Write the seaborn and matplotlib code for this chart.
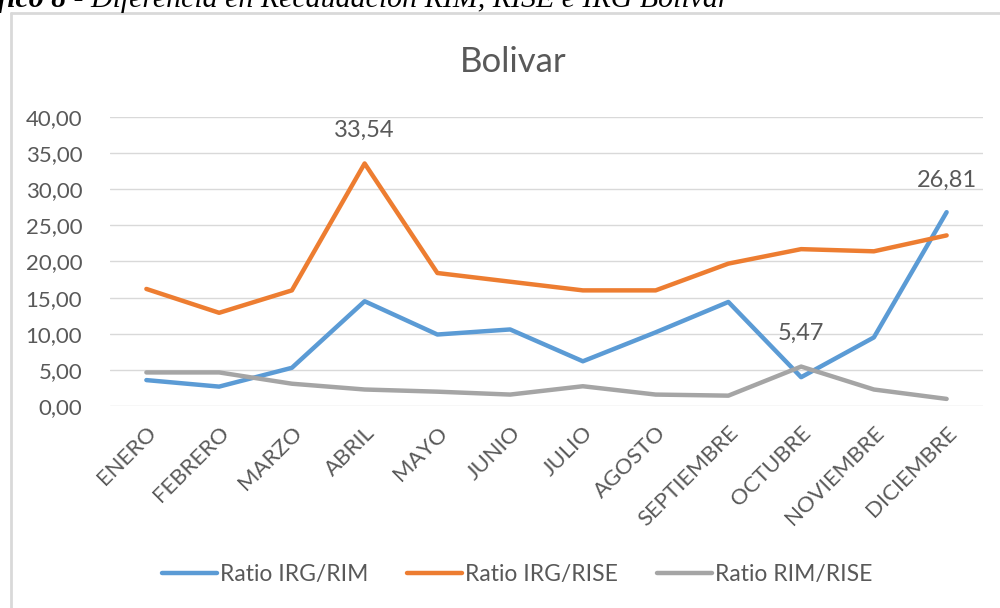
import matplotlib
matplotlib.use("Agg")
import matplotlib.pyplot as plt
import seaborn as sns
import pandas as pd
from matplotlib.lines import Line2D

months = ["ENERO", "FEBRERO", "MARZO", "ABRIL", "MAYO", "JUNIO", "JULIO",
          "AGOSTO", "SEPTIEMBRE", "OCTUBRE", "NOVIEMBRE", "DICIEMBRE"]
irg_rim = [3.6, 2.7, 5.3, 14.5, 9.9, 10.6, 6.2, 10.2, 14.4, 4.0, 9.5, 26.81]
irg_rise = [16.2, 12.9, 16.0, 33.54, 18.4, 17.2, 16.0, 16.0, 19.7, 21.7, 21.4, 23.6]
rim_rise = [4.66, 4.66, 3.1, 2.3, 2.0, 1.6, 2.75, 1.6, 1.45, 5.47, 2.3, 1.0]
series_names = ["Ratio IRG/RIM", "Ratio IRG/RISE", "Ratio RIM/RISE"]
colors = ["#5B9BD5", "#ED7D31", "#A5A5A5"]
yticks = [0, 5, 10, 15, 20, 25, 30, 35, 40]
title = "Bolivar"
caption_bold = "Gráfico 8"
caption_rest = " - Diferencia en Recaudación RIM, RISE e IRG Bolivar"

sns.set_theme(style="white")
plt.rcParams['font.family'] = ['Lato', 'DejaVu Sans']
TXT = "#595959"

rows = []
for name, vals in zip(series_names, [irg_rim, irg_rise, rim_rise]):
    for m, v in zip(months, vals):
        rows.append({"Mes": m, "Valor": v, "Serie": name})
df = pd.DataFrame(rows)

fig = plt.figure(figsize=(10, 6.08), dpi=100)
ax = fig.add_axes([0.11, 0.332, 0.873, 0.476])

sns.lineplot(data=df, x="Mes", y="Valor", hue="Serie", hue_order=series_names,
             palette=colors, sort=False, linewidth=3.2, ax=ax, legend=False)
for ln in ax.lines:
    ln.set_solid_joinstyle("round")
    ln.set_solid_capstyle("round")

ax.set_xlim(-0.5, len(months) - 0.5)
ax.set_ylim(0, 40)
ax.set_yticks(yticks)
ax.set_yticklabels([f"{v:.2f}".replace(".", ",") for v in yticks])
ax.yaxis.grid(True, color="#D9D9D9", linewidth=1)
ax.set_axisbelow(True)
for s in ax.spines.values():
    s.set_visible(False)
ax.set_xlabel("")
ax.set_ylabel("")
ax.tick_params(axis="y", length=0, pad=20, labelsize=16, labelcolor=TXT)
ax.tick_params(axis="x", length=0, pad=12, labelsize=16, labelcolor=TXT)
ax.set_xticks(range(len(months)))
ax.set_xticklabels(months, rotation=45, ha="right", rotation_mode="anchor")

# data labels
ax.annotate(f"{irg_rise[3]:.2f}".replace(".", ","), (3, irg_rise[3]),
            xytext=(0, 24), textcoords="offset points", ha="center", va="center",
            fontsize=17, color=TXT)
ax.annotate(f"{irg_rim[11]:.2f}".replace(".", ","), (11, irg_rim[11]),
            xytext=(0, 23), textcoords="offset points", ha="center", va="center",
            fontsize=17, color=TXT)
ax.annotate(f"{rim_rise[9]:.2f}".replace(".", ","), (9, rim_rise[9]),
            xytext=(0, 24), textcoords="offset points", ha="center", va="center",
            fontsize=17, color=TXT)

# title
fig.text(0.513, 1 - 62 / 608, title, ha="center", va="center", fontsize=25, color=TXT)

# legend
handles = [Line2D([0], [0], color=c, lw=3.2, solid_capstyle="round") for c in colors]
fig.legend(handles, series_names, loc="center", bbox_to_anchor=(0.517, 1 - 575 / 608),
           ncol=3, frameon=False, fontsize=16.5, handlelength=2.4, handletextpad=0.12,
           columnspacing=1.7, labelcolor=TXT)

# chart frame (left and top borders)
fig.add_artist(Line2D([11 / 1000, 11 / 1000], [0, 1 - 13 / 608], transform=fig.transFigure,
                      color="#D9D9D9", lw=2))
fig.add_artist(Line2D([11 / 1000, 1], [1 - 13 / 608, 1 - 13 / 608], transform=fig.transFigure,
                      color="#D9D9D9", lw=2))

# cropped caption above frame
fig.text(66 / 1000, 1 - 7 / 608, caption_bold, ha="right", va="baseline", fontsize=21.5,
         family="Liberation Serif", style="italic", weight="bold", color="black")
fig.text(66 / 1000, 1 - 7 / 608, caption_rest, ha="left", va="baseline", fontsize=21.5,
         family="Liberation Serif", style="italic", color="black")

fig.savefig("out.png", dpi=100, facecolor="white")
